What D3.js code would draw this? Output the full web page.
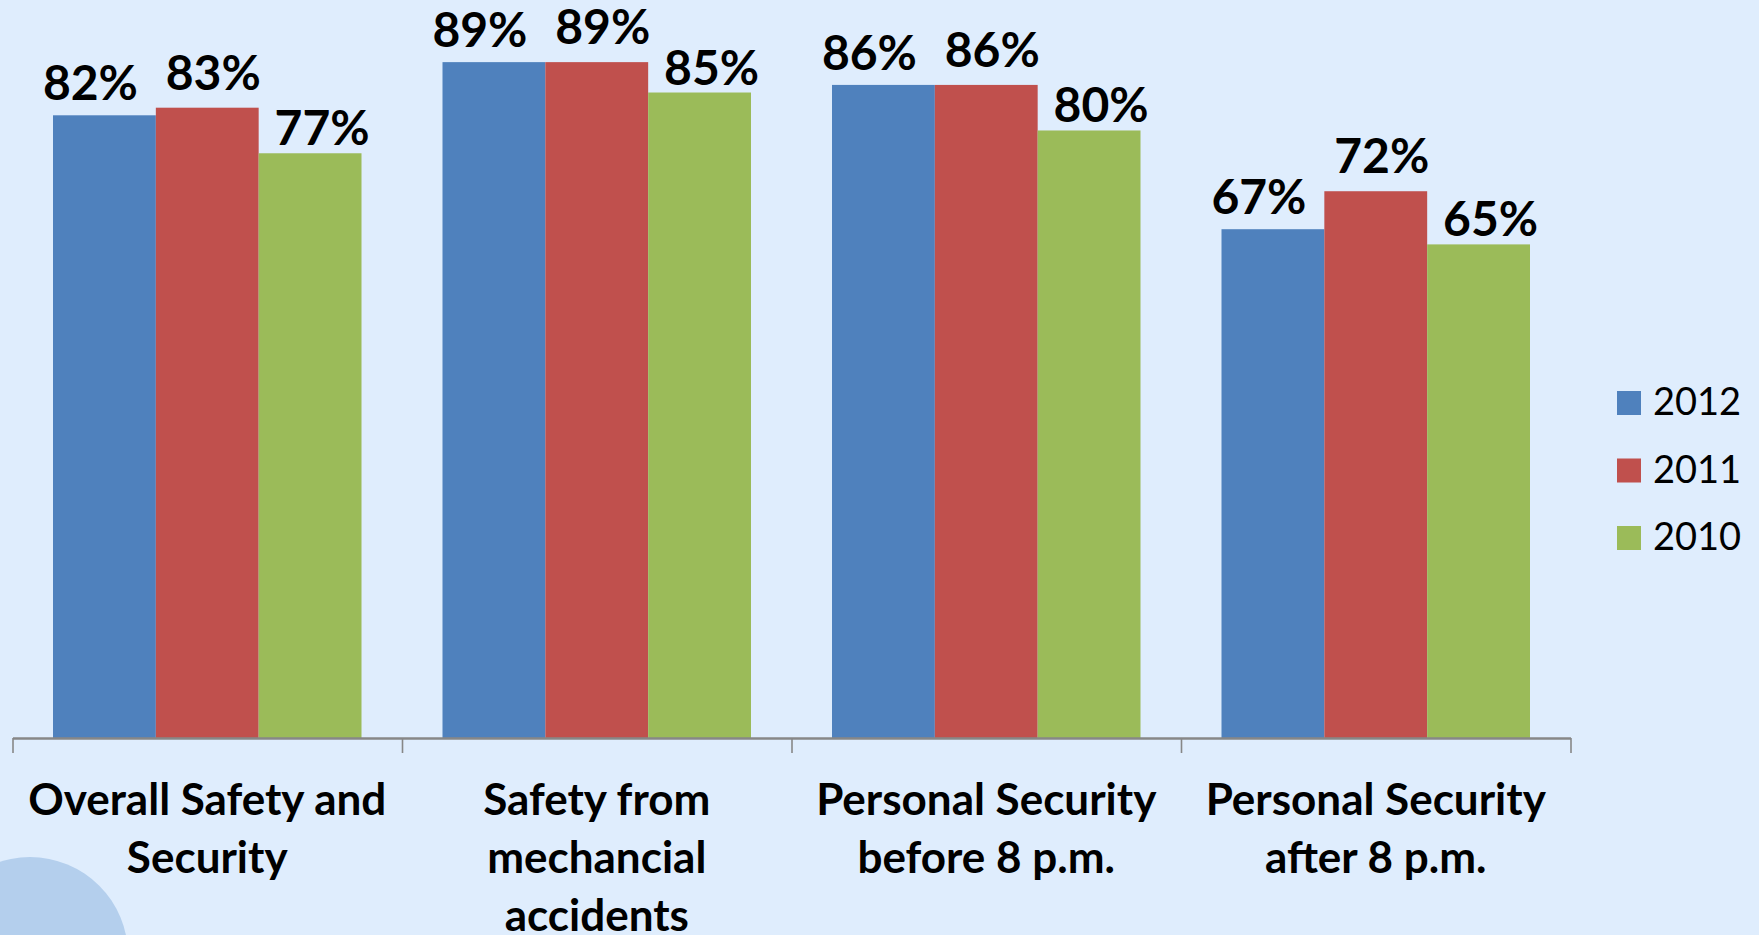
<!DOCTYPE html>
<html>
<head>
<meta charset="utf-8">
<script src="https://cdn.jsdelivr.net/npm/d3@7"></script>
<style>
  html, body { margin: 0; padding: 0; background: #dfedfd; }
  svg { display: block; }
</style>
</head>
<body>
<svg id="chart" width="1759" height="935"></svg>
<script>
// Survey results: share of respondents satisfied, by aspect and year
const categories = [
  ["Overall Safety and", "Security"],
  ["Safety from", "mechancial", "accidents"],
  ["Personal Security", "before 8 p.m."],
  ["Personal Security", "after 8 p.m."]
];
const seriesNames = ["2012", "2011", "2010"];
const values2012 = [82, 89, 86, 67];
const values2011 = [83, 89, 86, 72];
const values2010 = [77, 85, 80, 65];

const seriesValues = [values2012, values2011, values2010];
const colors = ["#4f81bd", "#c0504d", "#9bbb59"];
// label nudges per series (horizontal shift, gap above bar)
const labelDx = [-14, 6, 12];
const labelGap = [15, 18, 8];

const svg = d3.select("#chart");

// faint decorative disc in the lower-left corner
svg.append("circle")
  .attr("cx", 30).attr("cy", 955).attr("r", 98)
  .attr("fill", "#b4cfed");

const catKeys = categories.map((c, i) => i);
const x = d3.scaleBand().domain(catKeys).range([12.5, 1570.5]).paddingInner(0).paddingOuter(0);
const xs = d3.scaleBand().domain(seriesNames)
  .range([40.5, x.bandwidth() - 40.5]).padding(0);
const y = d3.scaleLinear().domain([0, 100]).range([738, 738 - 759.4]);

const rows = [];
catKeys.forEach(ci => {
  seriesNames.forEach((s, si) => {
    rows.push({ ci, s, si, v: seriesValues[si][ci] });
  });
});

// bars
svg.append("g").selectAll("rect")
  .data(rows)
  .join("rect")
  .attr("x", d => x(d.ci) + xs(d.s))
  .attr("y", d => y(d.v))
  .attr("width", xs.bandwidth())
  .attr("height", d => y(0) - y(d.v))
  .attr("fill", d => colors[d.si]);

// value labels
svg.append("g").selectAll("text")
  .data(rows)
  .join("text")
  .attr("x", d => x(d.ci) + xs(d.s) + xs.bandwidth() / 2 + labelDx[d.si])
  .attr("y", d => y(d.v) - labelGap[d.si])
  .attr("text-anchor", "middle")
  .attr("font-family", "Lato, 'Noto Sans', sans-serif")
  .attr("font-weight", "bold")
  .attr("font-size", 48)
  .attr("fill", "#000")
  .text(d => d.v + "%");

// category axis: ticks sit at band boundaries
const axisG = svg.append("g").attr("transform", `translate(0,${y(0)})`);
axisG.call(d3.axisBottom(d3.scaleLinear().domain([0, categories.length]).range(x.range()))
  .tickValues(d3.range(categories.length + 1))
  .tickSize(15)
  .tickSizeOuter(0)
  .tickFormat(""));
axisG.select(".domain").attr("stroke", "#878787").attr("stroke-width", 2.5);
axisG.selectAll(".tick line").attr("stroke", "#878787").attr("stroke-width", 1.6);

// category labels
const catG = svg.append("g");
categories.forEach((lines, ci) => {
  const cx = x(ci) + x.bandwidth() / 2;
  const t = catG.append("text")
    .attr("x", cx)
    .attr("y", 815)
    .attr("text-anchor", "middle")
    .attr("font-family", "Lato, 'Noto Sans', sans-serif")
    .attr("font-weight", "bold")
    .attr("font-size", 44)
    .attr("fill", "#000");
  lines.forEach((ln, li) => {
    t.append("tspan")
      .attr("x", cx)
      .attr("y", 815 + li * 58)
      .text(ln);
  });
});

// legend
const legend = svg.append("g");
seriesNames.forEach((s, si) => {
  const ly = 391 + si * 67.5;
  legend.append("rect")
    .attr("x", 1617).attr("y", ly)
    .attr("width", 24).attr("height", 24)
    .attr("fill", colors[si]);
  legend.append("text")
    .attr("x", 1653).attr("y", ly + 24)
    .attr("font-family", "Lato, 'Noto Sans', sans-serif")
    .attr("font-size", 38)
    .attr("fill", "#000")
    .text(s);
});
</script>
</body>
</html>
